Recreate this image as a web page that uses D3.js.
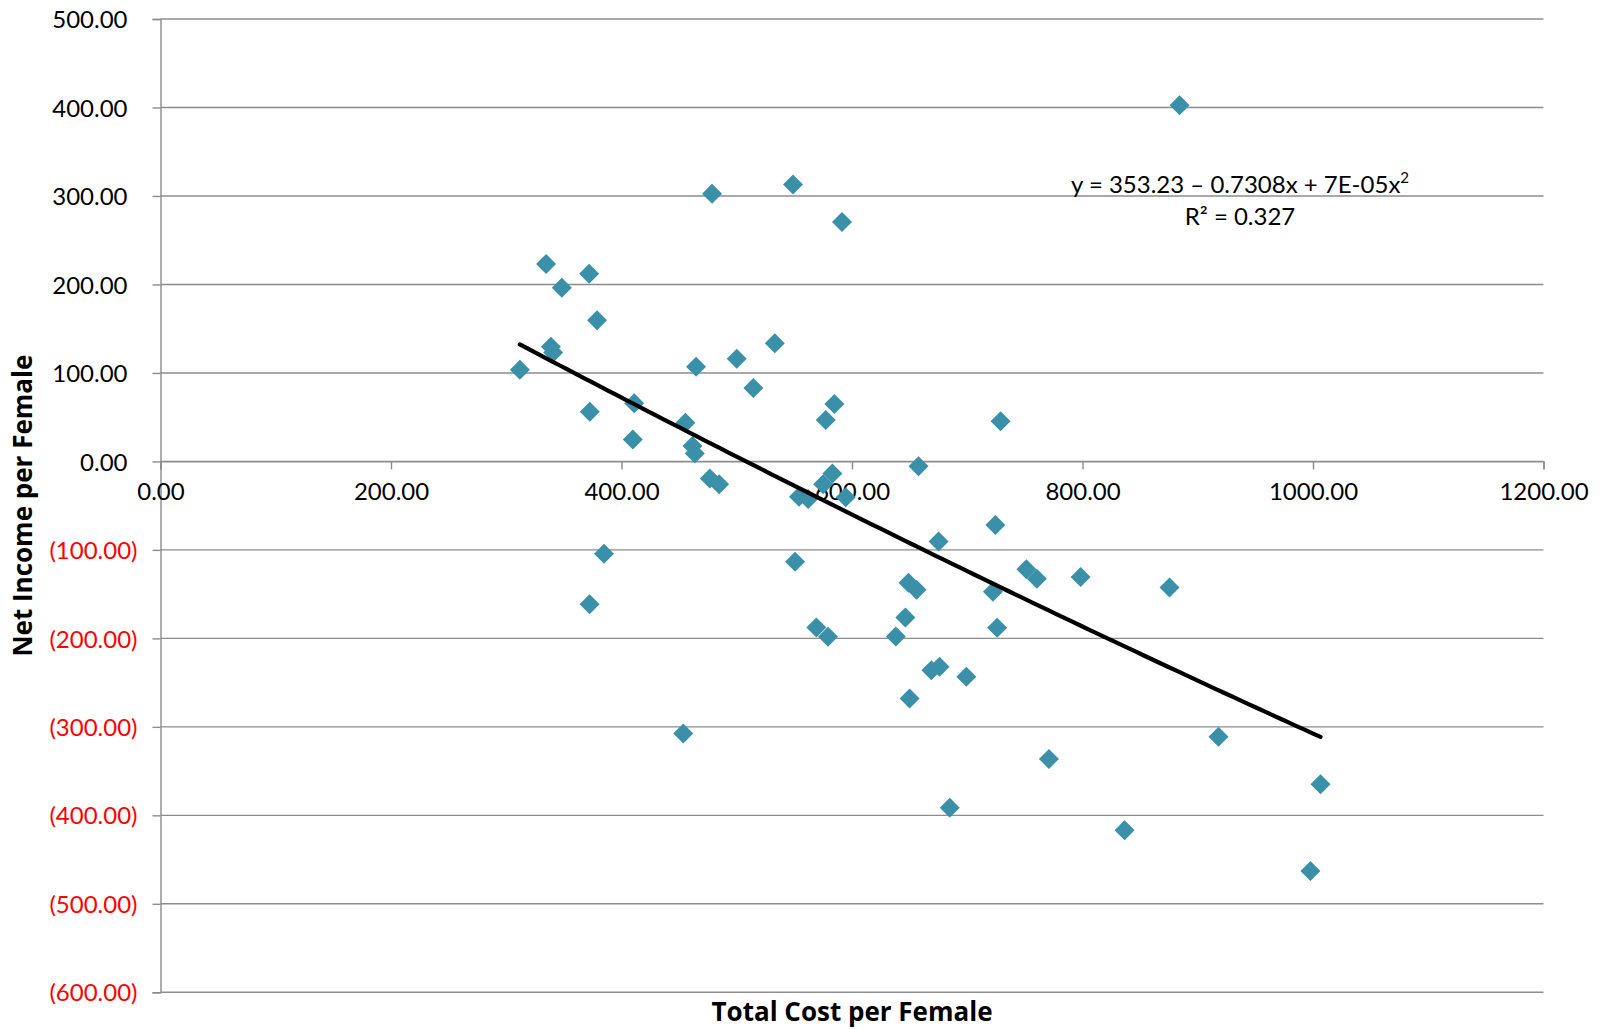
<!DOCTYPE html>
<html>
<head>
<meta charset="utf-8">
<script src="https://cdn.jsdelivr.net/npm/d3@7/dist/d3.min.js"></script>
<style>
  html, body { margin: 0; padding: 0; background: #ffffff; }
  svg { display: block; font-family: Lato, "Open Sans", sans-serif; }
</style>
</head>
<body>
<svg id="chart" width="1602" height="1029"></svg>
<script>
// Total cost per female (x) and net income per female (y) for each herd record
const totalCost = [
  311.8, 334.6, 338.7, 340.7, 348.2, 371.9, 372.5, 372.3, 378.8, 384.8,
  409.8, 411.0, 453.6, 455.5, 461.6, 463.6, 464.7, 476.6, 478.6, 484.7,
  500.0, 514.4, 533.0, 548.8, 550.6, 554.0, 562.0, 569.1, 575.0, 577.2,
  579.2, 583.0, 584.7, 591.3, 594.5, 638.0, 646.3, 649.0, 650.0, 656.0,
  657.7, 668.9, 675.1, 676.0, 684.8, 699.2, 722.3, 724.4, 725.9, 728.9,
  751.3, 760.4, 770.9, 798.4, 836.5, 875.5, 884.2, 918.0, 997.8, 1006.5
];
const netIncome = [
  103.5, 223.0, 129.6, 123.2, 196.2, 212.0, 56.1, -161.4, 159.4, -104.4,
  24.9, 65.6, -307.5, 43.6, 17.3, 9.0, 107.0, -19.2, 302.5, -25.7,
  116.0, 82.9, 133.4, 313.0, -113.5, -40.0, -42.6, -187.7, -25.7, 46.7,
  -198.3, -13.6, 64.8, 270.5, -40.5, -198.0, -176.4, -137.0, -268.0, -145.0,
  -5.5, -236.0, -90.4, -232.2, -391.3, -243.5, -147.2, -72.0, -188.0, 45.4,
  -122.0, -132.5, -336.2, -130.5, -416.8, -142.5, 402.5, -311.3, -462.8, -364.8
];

// Polynomial trendline coefficients (order 2) and fit quality
const trendCoef = [353.23, -0.7308, 7e-05];
const trendR2 = 0.327;

const xTicks = [0, 200, 400, 600, 800, 1000, 1200];
const yTicks = [500, 400, 300, 200, 100, 0, -100, -200, -300, -400, -500, -600];

const xTitle = "Total Cost per Female";
const yTitle = "Net Income per Female";

const svg = d3.select("#chart");
const plot = { left: 160.5, right: 1543.5, top: 19, bottom: 992.3 };

const x = d3.scaleLinear().domain([0, 1200]).range([plot.left, plot.right]);
const y = d3.scaleLinear().domain([-600, 500]).range([plot.bottom, plot.top]);

const gridColor = "#8c8c8c";
const markerColor = "#3a90a8";

// Accounting-style number format: negatives in parentheses, no thousands separator
const fmt2 = d3.format(".2f");
const acct = v => v < 0 ? "(" + fmt2(-v) + ")" : fmt2(v);

// Horizontal gridlines
svg.append("g")
  .selectAll("line")
  .data(yTicks)
  .join("line")
  .attr("x1", plot.left)
  .attr("x2", plot.right)
  .attr("y1", d => y(d))
  .attr("y2", d => y(d))
  .attr("stroke", gridColor)
  .attr("stroke-width", 1.4);

// Vertical value axis
const yAxis = svg.append("g")
  .attr("transform", `translate(${x(0)},0)`)
  .call(d3.axisLeft(y).tickValues(yTicks).tickSize(8).tickPadding(15).tickFormat(acct));
yAxis.select(".domain").attr("stroke", gridColor).attr("stroke-width", 1.4);
yAxis.selectAll(".tick line").attr("stroke", gridColor).attr("stroke-width", 1.4);
yAxis.selectAll(".tick text")
  .attr("font-family", "Lato, 'Open Sans', sans-serif")
  .attr("font-size", 24)
  .attr("fill", d => d < 0 ? "#ff0000" : "#000000")
  .attr("dx", d => d < 0 ? 0 : -10)
  .attr("dy", "0.36em");

// Horizontal category axis crossing at zero
const xAxis = svg.append("g")
  .attr("transform", `translate(0,${y(0)})`)
  .call(d3.axisBottom(x).tickValues(xTicks).tickSize(8).tickPadding(14).tickFormat(fmt2));
xAxis.select(".domain").attr("stroke", gridColor).attr("stroke-width", 1.4);
xAxis.selectAll(".tick line").attr("stroke", gridColor).attr("stroke-width", 1.4);
xAxis.selectAll(".tick text")
  .attr("font-family", "Lato, 'Open Sans', sans-serif")
  .attr("font-size", 24)
  .attr("fill", "#000000")
  .attr("dy", "0.71em");

// Data markers: rotated squares
const diamond = d3.symbol().type(d3.symbolSquare).size(200);
const points = totalCost.map((c, i) => ({ cost: c, income: netIncome[i] }));
svg.append("g")
  .selectAll("path")
  .data(points)
  .join("path")
  .attr("d", diamond)
  .attr("transform", d => `translate(${x(d.cost)},${y(d.income)}) rotate(45)`)
  .attr("fill", markerColor);

// Quadratic trendline over the observed cost range
const poly = v => trendCoef[0] + trendCoef[1] * v + trendCoef[2] * v * v;
const [xmin, xmax] = d3.extent(totalCost);
const trendPts = d3.range(0, 101).map(k => xmin + (xmax - xmin) * k / 100);
svg.append("path")
  .datum(trendPts)
  .attr("d", d3.line().x(v => x(v)).y(v => y(poly(v))))
  .attr("fill", "none")
  .attr("stroke", "#000000")
  .attr("stroke-width", 4.2)
  .attr("stroke-linecap", "round");

// Trendline equation label
const eq = svg.append("text")
  .attr("x", 1240)
  .attr("y", 193)
  .attr("text-anchor", "middle")
  .attr("font-size", 24)
  .attr("fill", "#000000");
eq.append("tspan").text(`y = ${trendCoef[0].toFixed(2)} \u2013 ${Math.abs(trendCoef[1]).toFixed(4)}x + 7E-05x`);
eq.append("tspan").attr("font-size", 15).attr("dy", -10).text("2");

svg.append("text")
  .attr("x", 1240)
  .attr("y", 225)
  .attr("text-anchor", "middle")
  .attr("font-size", 24)
  .attr("fill", "#000000")
  .text(`R\u00b2 = ${trendR2.toFixed(3)}`);

// Axis titles
svg.append("text")
  .attr("x", (plot.left + plot.right) / 2)
  .attr("y", 1021)
  .attr("text-anchor", "middle")
  .attr("font-family", "'Open Sans', Lato, sans-serif")
  .attr("font-size", 26)
  .attr("font-weight", "bold")
  .attr("fill", "#000000")
  .text(xTitle);

svg.append("text")
  .attr("transform", `translate(32,${(plot.top + plot.bottom) / 2}) rotate(-90)`)
  .attr("text-anchor", "middle")
  .attr("font-family", "'Open Sans', Lato, sans-serif")
  .attr("font-size", 26)
  .attr("font-weight", "bold")
  .attr("fill", "#000000")
  .text(yTitle);
</script>
</body>
</html>
